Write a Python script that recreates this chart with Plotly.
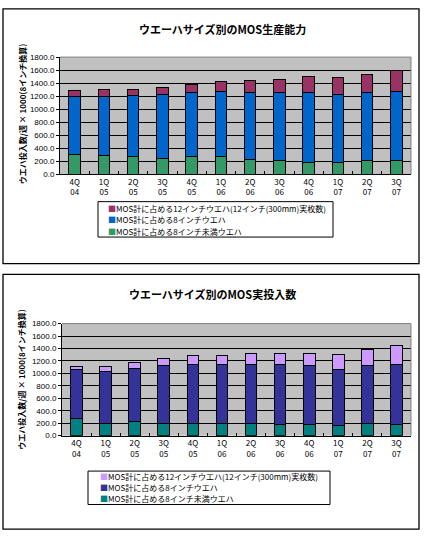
import plotly.graph_objects as go

quarters = ["4Q<br>04", "1Q<br>05", "2Q<br>05", "3Q<br>05", "4Q<br>05", "1Q<br>06",
            "2Q<br>06", "3Q<br>06", "4Q<br>06", "1Q<br>07", "2Q<br>07", "3Q<br>07"]

# Chart 1: production capacity
cap_under8 = [305, 290, 275, 245, 275, 275, 230, 215, 185, 185, 215, 215]
cap_8inch = [885, 900, 930, 975, 975, 990, 1020, 1035, 1065, 1035, 1035, 1050]
cap_12inch = [90, 110, 95, 105, 125, 155, 185, 200, 245, 260, 290, 335]

# Chart 2: actual wafer starts
act_under8 = [275, 200, 230, 200, 200, 200, 200, 185, 185, 170, 200, 185]
act_8inch = [780, 825, 855, 920, 950, 935, 950, 950, 935, 900, 920, 950]
act_12inch = [60, 90, 95, 115, 140, 155, 170, 185, 200, 235, 270, 315]

names = ["MOS計に占める8インチ未満ウエハ", "MOS計に占める8インチウエハ",
         "MOS計に占める12インチウエハ(12インチ(300mm)実枚数)"]
title1 = "ウエーハサイズ別のMOS生産能力"
title2 = "ウエーハサイズ別のMOS実投入数"
ytitle = "ウエハ投入数/週 × 1000(8インチ換算)"

W, H = 425, 540
JP = "Noto Sans CJK JP"

fig = go.Figure()

colors1 = ["#339966", "#0066CC", "#993366"]
colors2 = ["#008080", "#333399", "#CC99FF"]

for vals, nm, c in zip([cap_under8, cap_8inch, cap_12inch], names, colors1):
    fig.add_trace(go.Bar(x=quarters, y=vals, name=nm, marker=dict(color=c, line=dict(color="black", width=1)),
                         xaxis="x", yaxis="y", showlegend=False))
for vals, nm, c in zip([act_under8, act_8inch, act_12inch], names, colors2):
    fig.add_trace(go.Bar(x=quarters, y=vals, name=nm, marker=dict(color=c, line=dict(color="black", width=1)),
                         xaxis="x2", yaxis="y2", showlegend=False))

def px(x):
    return x / W

def py(y):
    return 1 - y / H

axis_common = dict(showline=True, linecolor="black", linewidth=1)
xcommon = dict(axis_common, type="category", ticks="inside", tickson="boundaries", ticklen=3,
               tickcolor="black", tickfont=dict(size=8, family=JP, color="black"), showgrid=False)
ycommon = dict(axis_common, range=[0, 1800], dtick=200, tickformat=".1f", ticks="outside", ticklen=3,
               tickcolor="black", gridcolor="black", gridwidth=1, zeroline=False,
               tickfont=dict(size=8, family="Liberation Sans", color="black"))

fig.update_layout(
    width=W, height=H, margin=dict(l=0, r=0, t=0, b=0),
    paper_bgcolor="white", plot_bgcolor="#C0C0C0",
    barmode="stack", bargap=0.6,
    xaxis=dict(xcommon, domain=[px(60), px(411)], anchor="y"),
    yaxis=dict(ycommon, domain=[py(173), py(54)], anchor="x"),
    xaxis2=dict(xcommon, domain=[px(62), px(411)], anchor="y2"),
    yaxis2=dict(ycommon, domain=[py(439), py(325)], anchor="x2"),
)

shapes = [
    dict(type="rect", xref="paper", yref="paper", x0=px(3), x1=px(419), y0=py(264), y1=py(5),
         line=dict(color="black", width=1.3)),
    dict(type="rect", xref="paper", yref="paper", x0=px(3), x1=px(419), y0=py(534), y1=py(275),
         line=dict(color="black", width=1.3)),
    # legend boxes
    dict(type="rect", xref="paper", yref="paper", x0=px(98), x1=px(333), y0=py(237), y1=py(201),
         line=dict(color="black", width=1), fillcolor="white"),
    dict(type="rect", xref="paper", yref="paper", x0=px(88), x1=px(330), y0=py(509), y1=py(475),
         line=dict(color="black", width=1), fillcolor="white"),
]
for xd, yd in [("x domain", "y domain"), ("x2 domain", "y2 domain")]:
    shapes.append(dict(type="line", xref=xd, yref=yd, x0=0, x1=1, y0=1, y1=1, line=dict(color="#808080", width=1)))
    shapes.append(dict(type="line", xref=xd, yref=yd, x0=1, x1=1, y0=0, y1=1, line=dict(color="#808080", width=1)))
fig.update_layout(shapes=shapes)

annotations = [
    dict(text="<b>" + title1 + "</b>", xref="paper", yref="paper", x=px(223), y=py(25),
         xanchor="center", yanchor="middle",
         showarrow=False, font=dict(size=11, family=JP, color="black")),
    dict(text="<b>" + title2 + "</b>", xref="paper", yref="paper", x=px(212), y=py(295),
         xanchor="center", yanchor="middle",
         showarrow=False, font=dict(size=11, family=JP, color="black")),
    dict(text="<b>" + ytitle + "</b>", xref="paper", yref="paper", x=px(22), y=py(112),
         xanchor="center", yanchor="middle",
         showarrow=False, textangle=-90, font=dict(size=8, family=JP, color="black")),
    dict(text="<b>" + ytitle + "</b>", xref="paper", yref="paper", x=px(22), y=py(382),
         xanchor="center", yanchor="middle",
         showarrow=False, textangle=-90, font=dict(size=8, family=JP, color="black")),
]

# legend rows (reversed order: 12-inch first)
def legend_rows(x_left, y_rows, colors):
    rows = []
    for yy, nm, c in zip(y_rows, names[::-1], colors[::-1]):
        rows.append(dict(text='<span style="color:%s">■</span>%s' % (c, nm), xref="paper", yref="paper",
                         x=px(x_left), y=py(yy), xanchor="left", yanchor="middle", showarrow=False,
                         font=dict(size=8, family=JP, color="black")))
    return rows

annotations += legend_rows(106, [208, 219, 231], colors1)
annotations += legend_rows(98, [481, 492, 503], colors2)
fig.update_layout(annotations=annotations)

fig.write_html("out.html", config={"displayModeBar": False},
               post_script="document.body.style.margin='0px';")
